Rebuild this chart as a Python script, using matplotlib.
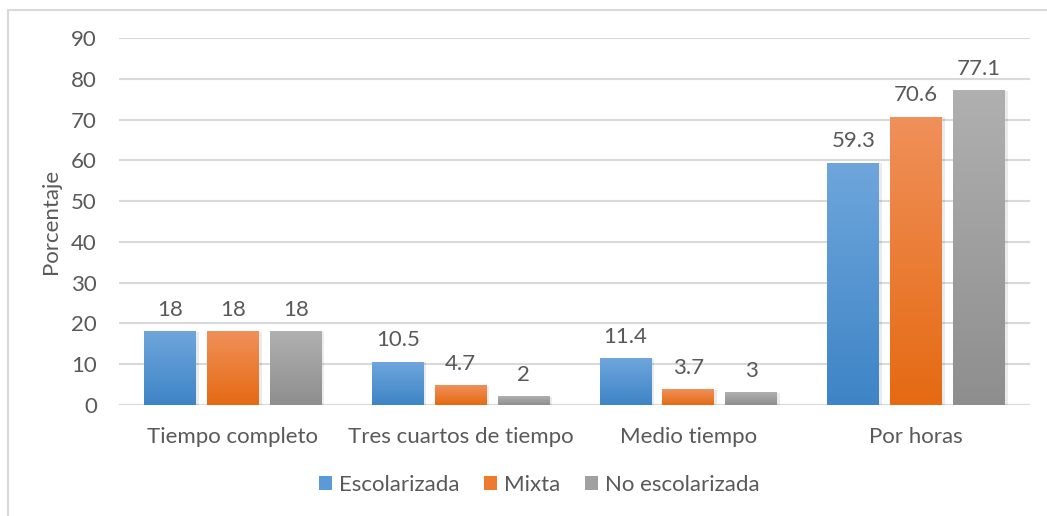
import numpy as np
import matplotlib.pyplot as plt
from matplotlib.colors import LinearSegmentedColormap
from matplotlib.lines import Line2D
from matplotlib.patches import Patch

plt.rcParams["font.family"] = ["Lato", "DejaVu Sans"]

categories = ["Tiempo completo", "Tres cuartos de tiempo", "Medio tiempo", "Por horas"]
series = ["Escolarizada", "Mixta", "No escolarizada"]
escolarizada = [18, 10.5, 11.4, 59.3]
mixta = [18, 4.7, 3.7, 70.6]
no_escolarizada = [18, 2, 3, 77.1]

# (top colour, bottom colour) for the gradient fill
GRADS = [("#6EA6DC", "#3E84C6"), ("#F0905A", "#E56A12"), ("#B0B0B0", "#8E8E8E")]
LEGEND_COLORS = ["#5A9AD6", "#EE7A2E", "#A0A0A0"]
TEXT = "#595959"

fig = plt.figure(figsize=(10.47, 5.16), dpi=100)
ax = fig.add_axes([119/1047, 1 - 405/516, (1030 - 119)/1047, (405 - 38)/516])

# frame around chart
fig.add_artist(Line2D([8/1047, 8/1047], [0, 1 - 10/516], color="#D9D9D9", lw=1.5))
fig.add_artist(Line2D([8/1047, 1], [1 - 10/516, 1 - 10/516], color="#D9D9D9", lw=1.5))

x = np.arange(len(categories))
width = 0.228
step = 0.276
data = [escolarizada, mixta, no_escolarizada]
grad = np.linspace(1, 0, 256).reshape(-1, 1)

for i, vals in enumerate(data):
    cmap = LinearSegmentedColormap.from_list("g%d" % i, [GRADS[i][1], GRADS[i][0]])
    xs = x + (i - 1) * step
    for xi, v in zip(xs, vals):
        # soft shadow
        ax.bar(xi + 0.006, v, width=width + 0.012, color="#000000", alpha=0.08, zorder=2)
        ax.imshow(grad, extent=[xi - width/2, xi + width/2, 0, v],
                  cmap=cmap, aspect="auto", zorder=3, vmin=0, vmax=1)
        ax.text(xi, v + 2.9, f"{v:g}", ha="center", va="bottom", fontsize=16, color=TEXT)

ax.set_xlim(-0.5, 3.5)
ax.set_ylim(0, 90)
ax.set_yticks(range(0, 91, 10))
ax.set_xticks(x)
ax.set_xticklabels(categories)
ax.yaxis.grid(True, color="#D9D9D9", lw=1.5)
ax.set_axisbelow(True)
for s in ax.spines.values():
    s.set_visible(False)
ax.axhline(0, color="#D9D9D9", lw=1.5, zorder=1)
ax.tick_params(axis="both", length=0, labelsize=16, labelcolor=TEXT)
ax.tick_params(axis="y", pad=16)
ax.tick_params(axis="x", pad=16)
ax.set_ylabel("Porcentaje", fontsize=16, color=TEXT, labelpad=7)

handles = [Patch(facecolor=c, edgecolor="none") for c in LEGEND_COLORS]
fig.legend(handles, series, loc="center", bbox_to_anchor=(539/1047, 1 - 485/516),
           ncol=3, frameon=False, fontsize=16, labelcolor=TEXT,
           handlelength=0.6, handleheight=0.6, handletextpad=0.3, columnspacing=1.1)

fig.savefig("out.png", dpi=100)
